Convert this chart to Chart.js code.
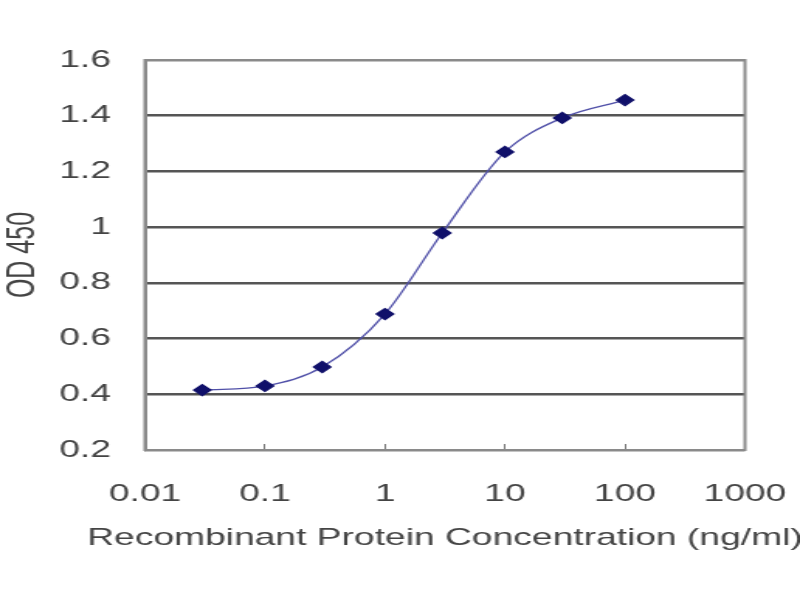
<!DOCTYPE html>
<html>
<head>
<meta charset="utf-8">
<script src="https://cdn.jsdelivr.net/npm/chart.js@4"></script>
<style>
  html, body { margin: 0; padding: 0; background: #fff; overflow: hidden; }
  /* the source picture is stretched sideways, so draw narrow and widen */
  #wrap { width: 516px; height: 600px; transform: scaleX(1.5504); transform-origin: 0 0; }
</style>
</head>
<body>
<div id="wrap"><canvas id="elisaChart" width="516" height="600"></canvas></div>
<script>
const concentrations = [0.03, 0.1, 0.3, 1, 3, 10, 30, 100];
const odValues = [0.415, 0.43, 0.498, 0.688, 0.979, 1.27, 1.392, 1.456];
const xTicks = [0.01, 0.1, 1, 10, 100, 1000];
const xTickLabels = ['0.01', '0.1', '1', '10', '100', '1000'];
const yTicks = [0.2, 0.4, 0.6, 0.8, 1, 1.2, 1.4, 1.6];
const yTickLabels = ['0.2', '0.4', '0.6', '0.8', '1', '1.2', '1.4', '1.6'];
const xTitle = 'Recombinant Protein Concentration (ng/ml)';

const FONT = 'Liberation Sans';

// frame round the plot area, plus the x title (chart.js squeezes its own
// title to the plot width, the original runs wider than that)
const frame = {
    id: 'frame',
    afterDraw(chart) {
        const a = chart.chartArea;
        const ctx = chart.ctx;
        ctx.save();
        ctx.strokeStyle = '#8a8a8a';
        ctx.lineWidth = 2;
        ctx.strokeRect(a.left, a.top, a.right - a.left, a.bottom - a.top);
        ctx.fillStyle = '#444';
        ctx.font = '24px "Liberation Sans"';
        ctx.textAlign = 'center';
        ctx.textBaseline = 'alphabetic';
        ctx.fillText(xTitle, (a.left + a.right) / 2, a.bottom + 95);
        ctx.restore();
    }
};

const ctx = document.getElementById('elisaChart').getContext('2d');
new Chart(ctx, {
    type: 'line',
    data: {
        datasets: [{
            data: concentrations.map((c, i) => ({ x: c, y: odValues[i] })),
            borderColor: '#5050a8',
            borderWidth: 1.3,
            tension: 0.4,
            cubicInterpolationMode: 'monotone',
            pointStyle: 'rectRot',
            pointRadius: 5.5,
            pointBackgroundColor: '#10106a',
            pointBorderColor: '#10106a',
            fill: false
        }]
    },
    options: {
        responsive: false,
        animation: false,
        devicePixelRatio: 1,
        layout: { padding: { top: 60, right: 35.5, left: 0, bottom: 0 } },
        plugins: {
            legend: { display: false },
            tooltip: { enabled: false }
        },
        scales: {
            x: {
                type: 'logarithmic',
                min: 0.01,
                max: 1000,
                afterBuildTicks(axis) { axis.ticks = xTicks.map(v => ({ value: v })); },
                afterFit(axis) {
                    axis.height = 150;
                    axis.paddingLeft = 0;
                    axis.paddingRight = 0;
                },
                border: { display: true, color: '#8a8a8a', width: 2 },
                grid: { drawOnChartArea: false, tickLength: -6, color: '#777', lineWidth: 1 },
                ticks: {
                    padding: 36,
                    color: '#444',
                    font: { family: FONT, size: 24 },
                    maxRotation: 0,
                    autoSkip: false,
                    callback: (v) => xTickLabels[xTicks.indexOf(v)] ?? ''
                },
                title: { display: false }
            },
            y: {
                min: 0.2,
                max: 1.6,
                afterBuildTicks(axis) { axis.ticks = yTicks.map(v => ({ value: v })); },
                afterFit(axis) { axis.width = 93.5; },
                border: { display: true, color: '#8a8a8a', width: 2 },
                grid: {
                    tickLength: 0,
                    lineWidth: 2.5,
                    color: (c) => (c.tick && (c.tick.value === 0.2 || c.tick.value === 1.6)) ? '#8a8a8a' : '#555'
                },
                ticks: {
                    padding: 22,
                    color: '#444',
                    font: { family: FONT, size: 24 },
                    callback: (v) => yTickLabels[yTicks.indexOf(v)] ?? ''
                },
                title: {
                    display: true,
                    text: 'OD 450',
                    color: '#444',
                    font: { family: FONT, size: 25 },
                    padding: { top: 0, bottom: 4 }
                }
            }
        }
    },
    plugins: [frame]
});
</script>
</body>
</html>
